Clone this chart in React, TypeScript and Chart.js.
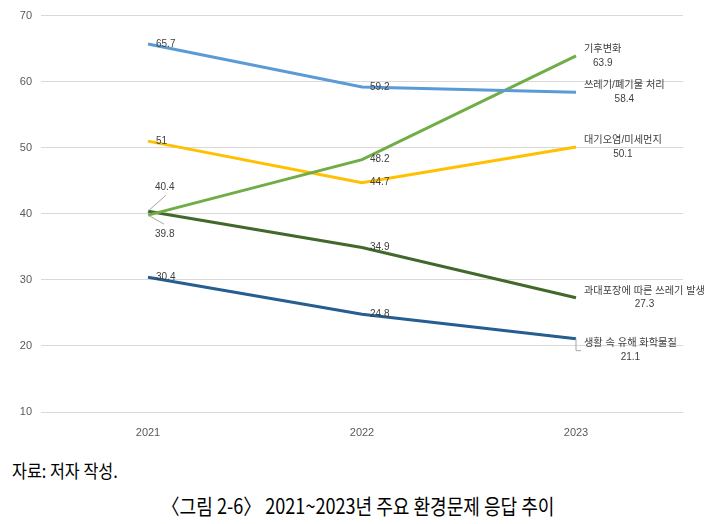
import React, { useEffect, useRef } from 'react';
import { Chart, registerables } from 'chart.js';

Chart.register(...registerables);

const categories = ['2021', '2022', '2023'];
const seriesNames = ['쓰레기/폐기물 처리', '기후변화', '대기오염/미세먼지', '과대포장에 따른 쓰레기 발생', '생활 속 유해 화학물질'];
const wasteValues = [65.7, 59.2, 58.4];
const climateValues = [39.8, 48.2, 63.9];
const airValues = [51, 44.7, 50.1];
const packagingValues = [40.4, 34.9, 27.3];
const chemicalValues = [30.4, 24.8, 21.1];
const yMin = 10;
const yMax = 70;
const yStep = 10;

const seriesValues = [wasteValues, climateValues, airValues, packagingValues, chemicalValues];
const seriesColors = ['#5B9BD5', '#70AD47', '#FFC000', '#43682B', '#255E91'];

const VALUE_FONT = '10px "Liberation Sans", "Noto Sans CJK KR", sans-serif';
const NAME_FONT = '10.2px "Liberation Sans", "Noto Sans CJK KR", sans-serif';
const LABEL_COLOR = '#404040';
const LEADER_COLOR = '#A6A6A6';

// label placement tweaks (offsets relative to the point)
type Tweak = { ds: number; idx: number; dx: number; dy: number; leader?: number[][] };
const labelTweaks: Tweak[] = [
  { ds: 1, idx: 0, dx: 7, dy: 19, leader: [[0, 0], [16, 9]] },
  { ds: 3, idx: 0, dx: 7, dy: -24, leader: [[0, 0], [18, -16]] },
  { ds: 4, idx: 2, dx: 8, dy: 12, leader: [[0, 0], [0, 12], [5, 12]] },
];

const labelPlugin = {
  id: 'customLabels',
  afterDatasetsDraw(chart: any) {
    const ctx = chart.ctx;
    ctx.save();
    ctx.fillStyle = LABEL_COLOR;
    ctx.textBaseline = 'middle';
    chart.data.datasets.forEach((ds: any, di: number) => {
      const meta = chart.getDatasetMeta(di);
      meta.data.forEach((pt: any, i: number) => {
        const v = ds.data[i];
        const tw = labelTweaks.find((t) => t.ds === di && t.idx === i);
        const dx = tw ? tw.dx : 8;
        const dy = tw ? tw.dy : 0;
        if (tw && tw.leader) {
          ctx.save();
          ctx.strokeStyle = LEADER_COLOR;
          ctx.lineWidth = 1;
          ctx.beginPath();
          tw.leader.forEach((p, k) => {
            const x = pt.x + p[0];
            const y = pt.y + p[1];
            if (k === 0) ctx.moveTo(x, y);
            else ctx.lineTo(x, y);
          });
          ctx.stroke();
          ctx.restore();
        }
        const isLast = i === ds.data.length - 1;
        if (isLast) {
          const name = ds.label;
          const val = String(v);
          ctx.font = NAME_FONT;
          const wn = ctx.measureText(name).width;
          ctx.font = VALUE_FONT;
          const wv = ctx.measureText(val).width;
          const w = Math.max(wn, wv);
          const cx = pt.x + dx + w / 2;
          ctx.textAlign = 'center';
          ctx.font = NAME_FONT;
          ctx.fillText(name, cx, pt.y + dy - 7);
          ctx.font = VALUE_FONT;
          ctx.fillText(val, cx, pt.y + dy + 7);
        } else {
          ctx.font = VALUE_FONT;
          ctx.textAlign = 'left';
          ctx.fillText(String(v), pt.x + dx, pt.y + dy);
        }
      });
    });
    ctx.restore();
  },
};

export default function App() {
  const canvasRef = useRef<HTMLCanvasElement | null>(null);

  useEffect(() => {
    if (!canvasRef.current) return;
    const chart = new Chart(canvasRef.current, {
      type: 'line',
      data: {
        labels: categories,
        datasets: seriesNames.map((name, i) => ({
          label: name,
          data: seriesValues[i],
          borderColor: seriesColors[i],
          backgroundColor: seriesColors[i],
          borderWidth: 3,
          pointRadius: 0,
          tension: 0,
          fill: false,
        })),
      },
      options: {
        responsive: false,
        animation: false,
        layout: { padding: { left: 0, right: 27, top: 11, bottom: 0 } },
        plugins: {
          legend: { display: false },
          tooltip: { enabled: false },
        },
        scales: {
          x: {
            offset: true,
            grid: { display: false },
            border: { display: false },
            ticks: {
              color: '#595959',
              font: { family: '"Liberation Sans", sans-serif', size: 11 },
              padding: 6,
            },
            afterFit: (scale: any) => {
              scale.height = 28;
            },
          },
          y: {
            min: yMin,
            max: yMax,
            grid: { color: '#D9D9D9', lineWidth: 1, drawTicks: false },
            border: { display: false },
            ticks: {
              stepSize: yStep,
              color: '#595959',
              font: { family: '"Liberation Sans", sans-serif', size: 11 },
              padding: 9,
            },
            afterFit: (scale: any) => {
              scale.width = 41;
            },
          },
        },
      },
      plugins: [labelPlugin],
    });
    return () => chart.destroy();
  }, []);

  return (
    <div style={{ position: 'absolute', left: 0, top: 0, width: 710, height: 524, background: '#fff' }}>
      <canvas ref={canvasRef} width={710} height={440} style={{ display: 'block' }} />
      <div
        style={{
          position: 'absolute',
          left: 12,
          top: 458,
          fontFamily: '"Noto Sans CJK KR", sans-serif',
          fontSize: 18,
          lineHeight: '24px',
          color: '#000',
          transform: 'scaleX(0.9)',
          transformOrigin: 'left center',
          whiteSpace: 'nowrap',
        }}
      >
        자료: 저자 작성.
      </div>
      <div
        style={{
          position: 'absolute',
          left: 3,
          top: 491,
          width: 710,
          textAlign: 'center',
          fontFamily: '"Noto Sans CJK KR", sans-serif',
          fontSize: 21,
          lineHeight: '28px',
          color: '#000',
          transform: 'scaleX(0.86)',
          transformOrigin: 'center center',
          whiteSpace: 'nowrap',
        }}
      >
        〈그림 2-6〉 2021~2023년 주요 환경문제 응답 추이
      </div>
    </div>
  );
}
